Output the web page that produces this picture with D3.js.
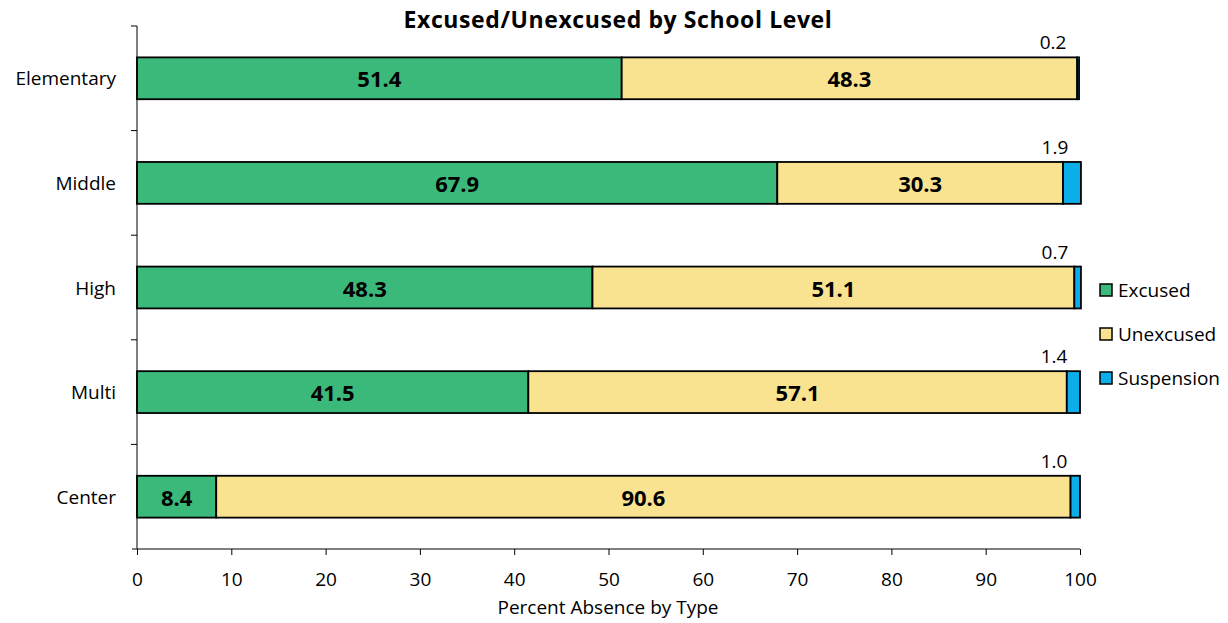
<!DOCTYPE html>
<head>
  <meta charset="utf-8">
  <script src="https://d3js.org/d3.v7.min.js"></script>
  <style>
    body { margin:0; background:#fff; }
    svg { font-family: "Open Sans", sans-serif; }
  </style>
</head>
<body>
<script>
  var levels = ["Elementary", "Middle", "High", "Multi", "Center"];
  var excused = [51.4, 67.9, 48.3, 41.5, 8.4];
  var unexcused = [48.3, 30.3, 51.1, 57.1, 90.6];
  var suspension = [0.2, 1.9, 0.7, 1.4, 1.0];
  var seriesNames = ["Excused", "Unexcused", "Suspension"];
  var xTicks = [0, 10, 20, 30, 40, 50, 60, 70, 80, 90, 100];

  var colors = ["#3bb97a", "#f9e391", "#0caeea"];
  var width = 1228, height = 623;
  var plotLeft = 137, plotRight = 1080, plotTop = 26, plotBottom = 549;

  var rows = levels.map(function(l, i) {
    return { level: l, Excused: excused[i], Unexcused: unexcused[i], Suspension: suspension[i] };
  });
  var stacked = d3.stack().keys(seriesNames)(rows);

  var x = d3.scaleLinear().domain([0, 100]).range([plotLeft, plotRight]);
  var y = d3.scaleBand().domain(levels).range([plotTop, plotBottom]).paddingInner(0.6).paddingOuter(0.3);

  var svg = d3.select("body").append("svg").attr("width", width).attr("height", height);

  // title
  svg.append("text").attr("x", 618).attr("y", 28).attr("text-anchor", "middle")
    .attr("font-size", 23).attr("letter-spacing", 0.6).attr("font-weight", "bold")
    .text("Excused/Unexcused by School Level");

  // bars
  var groups = svg.selectAll("g.series").data(stacked).enter().append("g")
    .attr("class", "series").attr("fill", (d, i) => colors[i]);
  groups.selectAll("rect").data(d => d).enter().append("rect")
    .attr("x", d => x(d[0]))
    .attr("y", d => y(d.data.level))
    .attr("width", d => x(d[1]) - x(d[0]))
    .attr("height", y.bandwidth())
    .attr("stroke", "#000").attr("stroke-width", 1.8);

  // labels inside excused / unexcused
  stacked.slice(0, 2).forEach(function(s) {
    svg.selectAll(null).data(s).enter().append("text")
      .attr("x", d => (x(d[0]) + x(d[1])) / 2)
      .attr("y", d => y(d.data.level) + y.bandwidth() / 2 + 9)
      .attr("text-anchor", "middle").attr("font-size", 22).attr("font-weight", "bold")
      .text(d => (d[1] - d[0]).toFixed(1));
  });
  // suspension labels above the bar end
  svg.selectAll(null).data(stacked[2]).enter().append("text")
    .attr("x", d => x(d[1]) - 26)
    .attr("y", d => y(d.data.level) - 8)
    .attr("text-anchor", "middle").attr("font-size", 19)
    .text(d => (d[1] - d[0]).toFixed(1));

  // x axis
  var xAxis = svg.append("g").attr("transform", "translate(0," + plotBottom + ")")
    .call(d3.axisBottom(x).tickValues(xTicks).tickSize(6).tickSizeOuter(0).tickPadding(18));
  xAxis.select(".domain").attr("d", "M" + (plotLeft - 5) + ",0H" + plotRight);
  xAxis.selectAll("text").attr("font-size", 19).attr("font-family", "'Open Sans', sans-serif").attr("fill", "#000");

  // y axis with ticks at band boundaries
  var yAxis = svg.append("g");
  yAxis.append("line").attr("x1", plotLeft).attr("x2", plotLeft).attr("y1", plotTop).attr("y2", plotBottom).attr("stroke", "#000");
  var step = y.step();
  var bounds = d3.range(levels.length).map(i => plotTop + i * step);
  yAxis.selectAll("line.tk").data(bounds).enter().append("line").attr("class", "tk")
    .attr("x1", plotLeft - 6).attr("x2", plotLeft).attr("y1", d => d).attr("y2", d => d).attr("stroke", "#000");
  yAxis.selectAll("text").data(levels).enter().append("text")
    .attr("x", 116).attr("y", d => y(d) + y.bandwidth() / 2 + 7)
    .attr("text-anchor", "end").attr("font-size", 19).text(d => d);

  svg.append("text").attr("x", 608).attr("y", 614).attr("text-anchor", "middle")
    .attr("font-size", 19).text("Percent Absence by Type");

  // legend
  var lg = svg.selectAll("g.lg").data(seriesNames).enter().append("g")
    .attr("transform", (d, i) => "translate(1100," + (284 + i * 44) + ")");
  lg.append("rect").attr("width", 12).attr("height", 12)
    .attr("fill", (d, i) => colors[i]).attr("stroke", "#000").attr("stroke-width", 1.5);
  lg.append("text").attr("x", 18).attr("y", 13).attr("font-size", 19).text(d => d);
</script>
</body>
